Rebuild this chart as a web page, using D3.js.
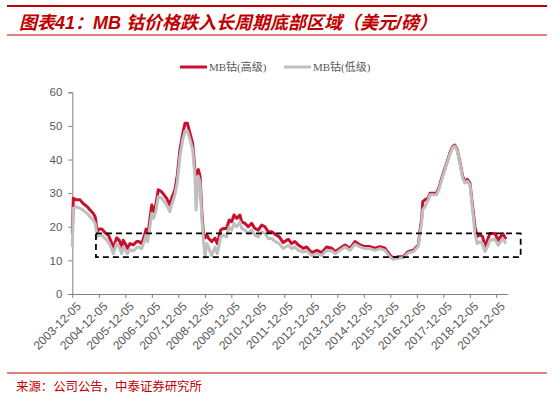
<!DOCTYPE html>
<html><head><meta charset="utf-8">
<script src="https://cdn.jsdelivr.net/npm/d3@7"></script>
<style>
html,body{margin:0;padding:0;background:#fff;}
svg{display:block;}
</style></head>
<body>
<svg id="chart" width="554" height="397"></svg>
<script>
const titleText = "图表41：MB 钴价格跌入长周期底部区域（美元/磅）";
const sourceText = "来源：公司公告，中泰证券研究所";
const seriesNames = ["MB钴(高级)", "MB钴(低级)"];
const yTicks = [0, 10, 20, 30, 40, 50, 60];
const xTickLabels = ["2003-12-05","2004-12-05","2005-12-05","2006-12-05","2007-12-05","2008-12-05","2009-12-05","2010-12-05","2011-12-05","2012-12-05","2013-12-05","2014-12-05","2015-12-05","2016-12-05","2017-12-05","2018-12-05","2019-12-05"];
const axisRange = ["2003-12-05", "2020-05-05"];
const bottomZone = {from: "2004-10-26", to: "2020-11-05", low: 11, high: 18};

const dates = ["2003-12-05","2003-12-19","2004-01-26","2004-03-20","2004-04-30","2004-06-25","2004-08-05","2004-09-17","2004-10-15","2004-10-26",
"2004-11-10","2004-12-08","2005-01-18","2005-03-01","2005-04-15","2005-05-30","2005-06-22","2005-08-07","2005-09-12","2005-10-16",
"2005-11-07","2005-12-14","2006-01-01","2006-02-08","2006-03-24","2006-05-10","2006-06-10","2006-07-17","2006-08-20","2006-09-17",
"2006-10-08","2006-11-01","2006-12-05","2006-12-30","2007-01-29","2007-03-04","2007-04-20","2007-06-26","2007-08-10","2007-09-04",
"2007-10-19","2007-11-20","2007-12-28","2008-02-05","2008-03-07","2008-04-08","2008-05-14","2008-06-20","2008-07-22","2008-08-05",
"2008-09-07","2008-09-30","2008-10-23","2008-11-15","2008-12-08","2009-01-01","2009-01-23","2009-03-09","2009-04-24","2009-05-26",
"2009-07-11","2009-08-16","2009-10-01","2009-11-06","2009-12-10","2010-01-11","2010-02-17","2010-04-02","2010-04-26","2010-06-11",
"2010-07-26","2010-09-11","2010-10-26","2010-12-11","2011-01-28","2011-03-14","2011-04-27","2011-06-13","2011-08-11","2011-09-26",
"2011-11-20","2012-01-29","2012-03-15","2012-04-29","2012-06-14","2012-08-23","2012-10-08","2012-12-17","2013-02-26","2013-05-03",
"2013-07-11","2013-09-20","2013-11-05","2014-01-12","2014-03-21","2014-05-29","2014-08-05","2014-10-14","2014-12-20","2015-02-28",
"2015-05-08","2015-07-16","2015-09-23","2015-11-30","2016-01-14","2016-03-23","2016-06-01","2016-08-08","2016-10-17","2016-12-26",
"2017-01-18","2017-02-10","2017-02-25","2017-03-26","2017-05-11","2017-06-04","2017-09-04","2017-10-10","2017-12-05","2018-01-20",
"2018-03-05","2018-04-11","2018-05-13","2018-06-14","2018-07-20","2018-08-29","2018-09-29","2018-11-01","2018-12-07","2019-01-13",
"2019-02-14","2019-03-17","2019-04-23","2019-05-30","2019-07-01","2019-08-15","2019-09-07","2019-11-16","2020-01-01","2020-03-03",
"2020-04-17"];

const highGrade = [18,28.5,28,28,27,26,25,24,23,21.4,
18.5,19.3,19.3,18.2,17.5,15.2,13.7,16.7,16,14,
16,14.6,13.6,15,14.6,15.6,15.6,15,17,19.3,
17,21,26.5,24.5,26.5,31,30.4,28.5,26.5,28.5,
31,35,43,47.8,50.8,50.8,47.8,44.8,36.9,35.4,
37,35,25,18,16.7,17.6,16.6,15.6,16.6,15,
19,19.5,19.5,22,21.5,23.5,22.5,23.5,21.5,21,
20,21,19.5,19,20.5,20,18.5,18.5,17.6,17,
15.3,16.3,15,15.6,14.6,13.6,14,12.3,13,12.3,
14,13.6,12.6,13.6,14.6,13.6,15.6,14.6,14.1,14.1,
13.6,14.1,13.6,11.6,10.6,11.1,11.1,12.6,13,14.6,
19,22.5,27.5,28,28.5,30,30,32,36,38.9,
41.9,43.8,44.3,42.9,39.4,35,33.4,34.1,33,26,
20,17.1,17.6,17.1,14.1,16.6,18,18,16,18,
16.3];

const lowGrade = [14,25.5,26,25.5,25,24,23,22,21,19.5,
17,17.5,17.5,16.5,15.5,13.5,12,15,14,12,
14,12.8,12,13.2,12.8,13.8,14,13.5,15.5,17.5,
15.5,19,24,22.5,24.5,29,28.5,26.5,24.5,26.5,
29.5,33,41,46,48.5,48.5,46,43,35,25,
35,33,23,16,11,15,14,11.5,14,12,
17,17.5,17,20,19,21,20,21.5,19.5,19,
18,19,17.5,17,18.5,18,16.5,16.5,15.5,15,
13.5,14.5,13.5,14,13,12.5,12.8,11.5,12,11.5,
13,12.8,12,13,14,13,14.8,14,13.5,13.5,
13,13.5,13,11,10.3,10.6,10.8,12.2,12.6,14.2,
18,21.5,25,26,28,29.5,29.5,31.5,35.5,38.5,
41.5,43.5,44,42.6,39,34.5,33,33.6,32.5,25,
18,15,15.5,15,12.6,14.5,16,16.3,14.5,16.5,
15];

const parse = d3.timeParse("%Y-%m-%d");
const svg = d3.select("#chart");
const red = "#C00000";
const axisColor = "#808080";
const textColor = "#595959";

// header
svg.append("line").attr("x1",7).attr("x2",547).attr("y1",6).attr("y2",6).attr("stroke",red).attr("stroke-width",2);
svg.append("text").attr("x",19).attr("y",29).text(titleText)
  .attr("font-family","'Liberation Sans','Noto Sans CJK SC',sans-serif")
  .attr("font-size",18).attr("font-weight","bold").attr("font-style","italic").attr("fill",red);
svg.append("line").attr("x1",7).attr("x2",547).attr("y1",35).attr("y2",35).attr("stroke",red).attr("stroke-width",1);

// scales
const x = d3.scaleTime().domain(axisRange.map(parse)).range([72.3, 507.3]);
const y = d3.scaleLinear().domain([0, 60]).range([294, 92.3]);

// y axis
const yAxis = svg.append("g").attr("transform","translate(72.3,0)")
  .call(d3.axisLeft(y).tickValues(yTicks).tickSize(4).tickPadding(6).tickFormat(d3.format("d")));
yAxis.select(".domain").attr("stroke",axisColor);
yAxis.selectAll(".tick line").attr("stroke",axisColor);
yAxis.selectAll("text").attr("fill",textColor).attr("font-size",11.5)
  .attr("font-family","'Liberation Sans',Arial,sans-serif");

// x axis
const xAxis = svg.append("g").attr("transform","translate(0,294)")
  .call(d3.axisBottom(x).tickValues(xTickLabels.map(parse)).tickSize(4).tickSizeOuter(0)
    .tickFormat(d3.timeFormat("%Y-%m-%d")));
xAxis.select(".domain").attr("stroke",axisColor);
xAxis.selectAll(".tick line").attr("stroke",axisColor);
xAxis.selectAll("text").attr("fill",textColor).attr("font-size",12)
  .attr("font-family","'Liberation Sans',Arial,sans-serif")
  .attr("text-anchor","end").attr("dy",0).attr("y",0)
  .attr("transform","translate(9,13) rotate(-45)");

// lines
const line = (vals) => d3.line().x((d,i)=>x(parse(dates[i]))).y((d)=>y(d))(vals);
svg.append("path").attr("d",line(highGrade)).attr("fill","none")
  .attr("stroke","#C8102E").attr("stroke-width",3).attr("stroke-linejoin","round");
svg.append("path").attr("d",line(lowGrade)).attr("fill","none")
  .attr("stroke","#BFBFBF").attr("stroke-width",3).attr("stroke-linejoin","round");

// bottom zone dashed box
const bx0 = x(parse(bottomZone.from)), bx1 = x(parse(bottomZone.to));
svg.append("rect").attr("x",bx0).attr("y",y(bottomZone.high))
  .attr("width",bx1-bx0).attr("height",y(bottomZone.low)-y(bottomZone.high))
  .attr("fill","none").attr("stroke","#000").attr("stroke-width",1.75).attr("stroke-dasharray","6,4");

// legend
const legendItems = [{name: seriesNames[0], color:"#C8102E", x:180},{name: seriesNames[1], color:"#BFBFBF", x:284}];
legendItems.forEach(it=>{
  svg.append("line").attr("x1",it.x).attr("x2",it.x+27).attr("y1",67).attr("y2",67)
    .attr("stroke",it.color).attr("stroke-width",3);
  svg.append("text").attr("x",it.x+29).attr("y",71).text(it.name)
    .attr("font-family","'Liberation Serif','Noto Sans CJK SC',serif").attr("font-size",11).attr("fill",textColor);
});

// footer
svg.append("line").attr("x1",7).attr("x2",547).attr("y1",373).attr("y2",373).attr("stroke",red).attr("stroke-width",1);
svg.append("text").attr("x",16).attr("y",391).text(sourceText)
  .attr("font-family","'Noto Sans CJK SC',sans-serif").attr("font-size",12.4).attr("fill",red);
</script>
</body></html>
